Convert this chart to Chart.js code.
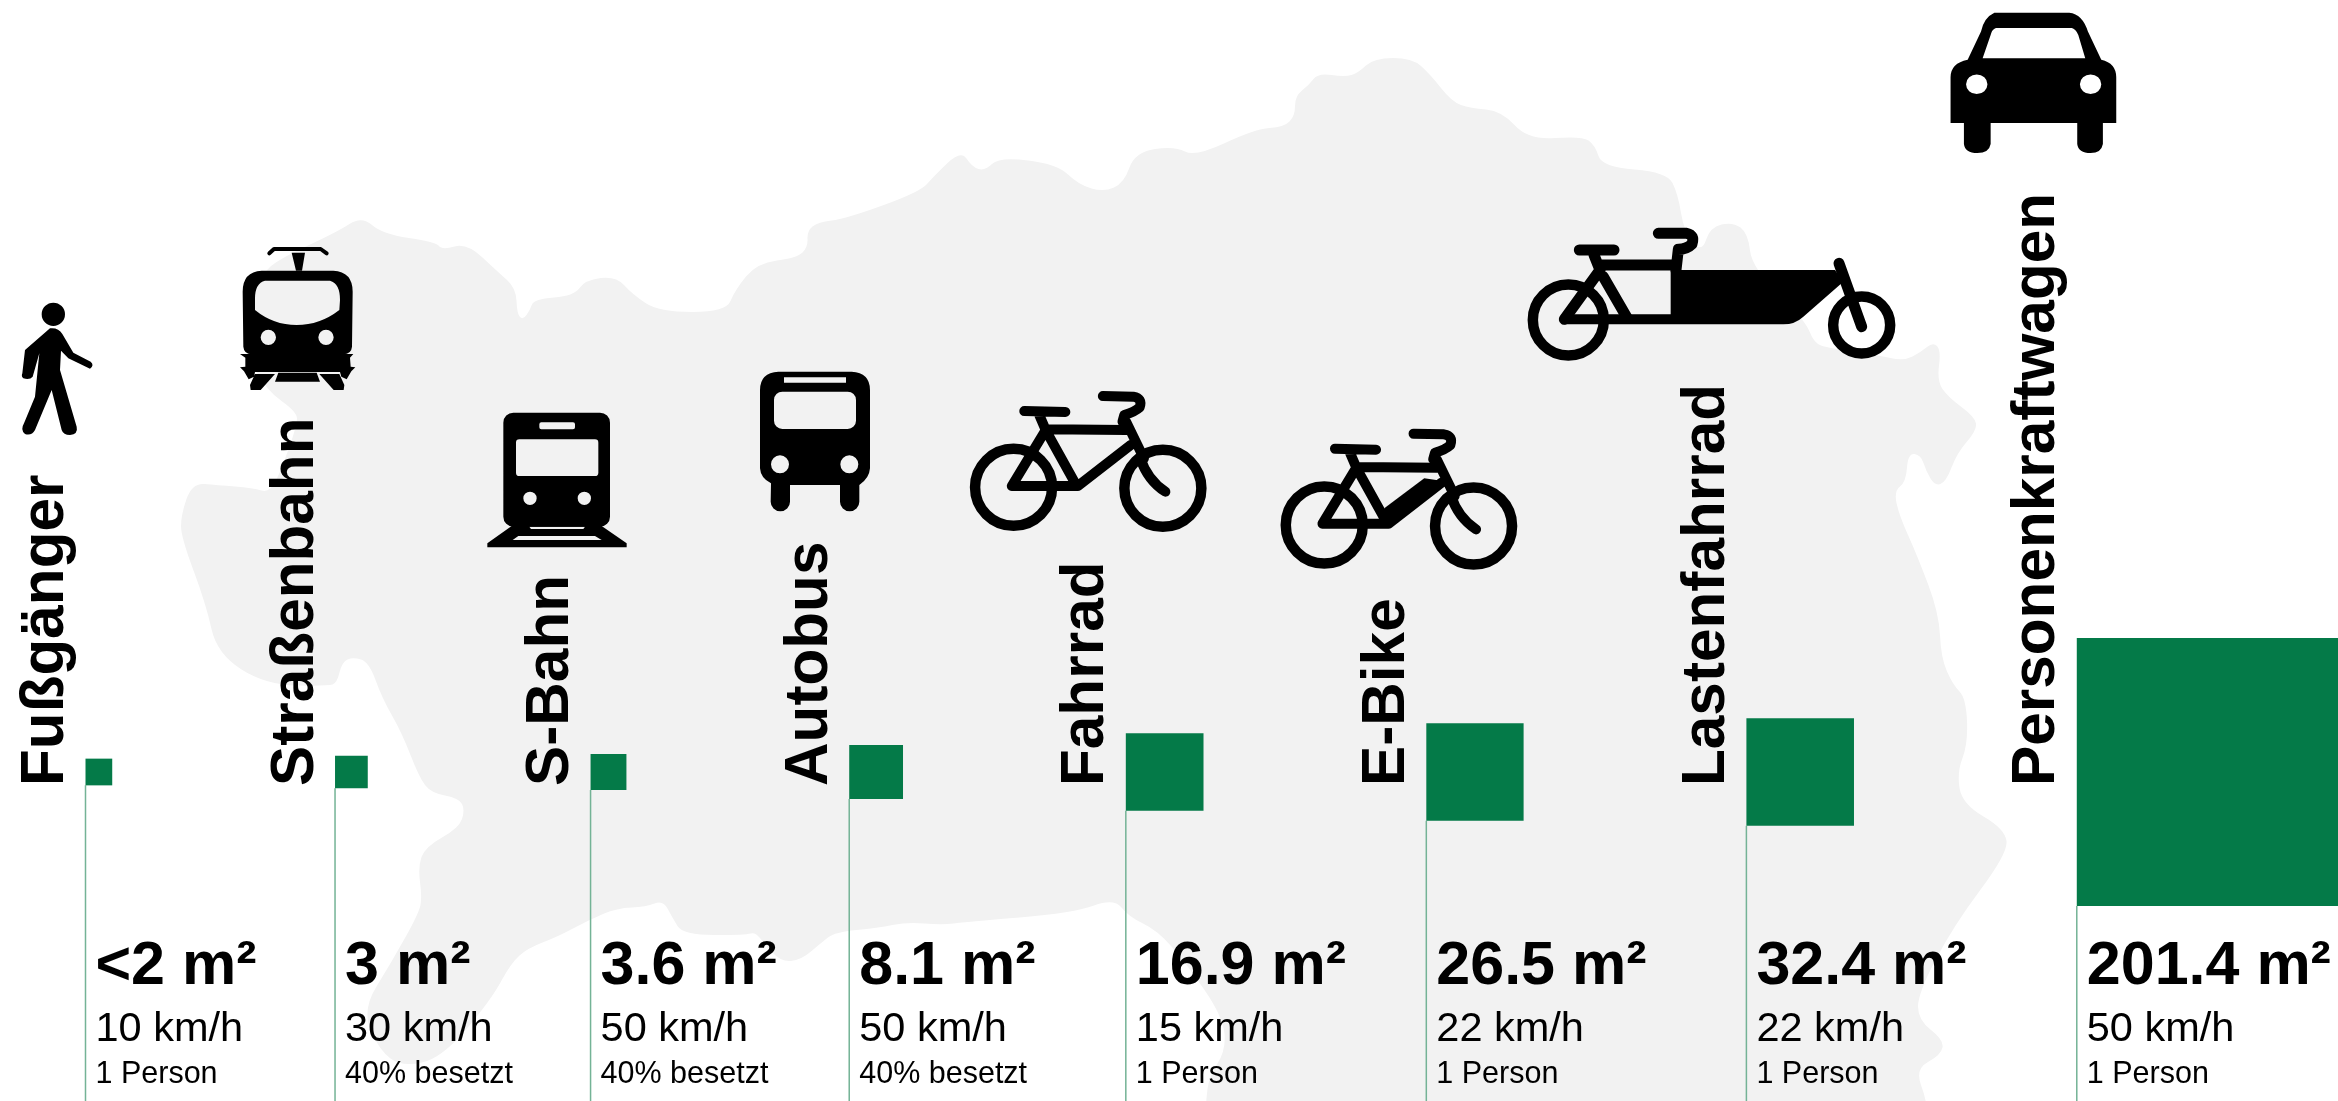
<!DOCTYPE html>
<html lang="de">
<head>
<meta charset="utf-8">
<title>Flächenverbrauch</title>
<script src="https://cdn.jsdelivr.net/npm/chart.js@4"></script>
<style>
    html, body { margin: 0; padding: 0; background: #fff; overflow: hidden; }
    canvas { display: block; }
</style>
</head>
<body>
<canvas id="chart" width="2338" height="1101"></canvas>
<script>
const categories = ['Fußgänger', 'Straßenbahn', 'S-Bahn', 'Autobus', 'Fahrrad', 'E-Bike', 'Lastenfahrrad', 'Personenkraftwagen'];
const areaValues = [2, 3, 3.6, 8.1, 16.9, 26.5, 32.4, 201.4];
const areaLabels = ['<2 m²', '3 m²', '3.6 m²', '8.1 m²', '16.9 m²', '26.5 m²', '32.4 m²', '201.4 m²'];
const speedLabels = ['10 km/h', '30 km/h', '50 km/h', '50 km/h', '15 km/h', '22 km/h', '22 km/h', '50 km/h'];
const occupancyLabels = ['1 Person', '40% besetzt', '40% besetzt', '40% besetzt', '1 Person', '1 Person', '1 Person', '1 Person'];

// Layout: one metre of square side is 18.9 px, both axes share that scale
const PX_PER_M = 18.9;
const WIDTH = 2338;
const HEIGHT = 1101;
const AXIS_Y_PX = 772;
const FIRST_LEFT = 85.5 / PX_PER_M;
const COLUMN_GAP = 222.8 / PX_PER_M;
const GREEN = '#047a48';
const POLE = '#74b396';
const MAP_GREY = '#f2f2f2';
const FONT = '"Liberation Sans", Arial, sans-serif';

// Each square is as wide as its area's root, the next column starts a fixed gap later
const sides = areaValues.map(v => Math.sqrt(v));
const lefts = [];
sides.forEach((side, i) => {
    lefts.push(i === 0 ? FIRST_LEFT : lefts[i - 1] + sides[i - 1] + COLUMN_GAP);
});

const yMax = AXIS_Y_PX / PX_PER_M;
const yMin = -(HEIGHT - AXIS_Y_PX) / PX_PER_M;

// Background silhouette, traced in canvas pixels
const mapOutline = [
    [192,483],[217,485],[253,488],[270,493],[282,468],[297,425],[297,412],[266,390],[245,350],[245,300],[262,275],[277,260],
    [337,232],[362,216],[382,234],[436,242],[442,250],[467,243],[498,272],[516,288],[517,314],[523,320],[530,310],[534,299],
    [574,296],[585,280],[616,276],[632,294],[659,312],[726,312],[735,290],[757,263],[797,258],[808,247],[807,231],[818,222],
    [845,219],[920,192],[934,176],[961,150],[972,167],[985,171],[999,157],[1057,164],[1079,185],[1104,192],[1124,183],[1135,152],
    [1175,146],[1195,157],[1255,129],[1284,127],[1295,116],[1295,96],[1309,85],[1318,73],[1345,77],[1358,73],[1374,58],[1412,58],
    [1430,74],[1452,102],[1470,108],[1502,111],[1528,140],[1582,136],[1595,145],[1602,167],[1667,172],[1678,194],[1684,232],[1702,253],
    [1710,227],[1733,222],[1748,233],[1752,268],[1805,320],[1814,343],[1828,348],[1877,355],[1904,361],[1921,352],[1933,342],[1941,350],
    [1937,381],[1948,397],[1975,417],[1977,430],[1957,453],[1946,482],[1935,486],[1926,471],[1921,455],[1908,453],[1906,482],[1894,491],
    [1899,515],[1917,555],[1939,613],[1941,658],[1953,685],[1966,698],[1968,744],[1957,772],[1962,804],[2005,829],[2008,853],[1954,925],
    [1918,993],[1918,1020],[1944,1040],[1941,1055],[1915,1069],[1927,1101],[1930,1140],[1204,1140],[1206,1101],[1209,1077],[1226,1050],[1223,1017],
    [1186,963],[1157,930],[1129,917],[1114,898],[1074,913],[965,922],[942,925],[907,922],[878,928],[835,932],[821,943],[801,960],
    [781,962],[764,943],[755,932],[746,935],[683,935],[672,917],[663,900],[646,907],[617,908],[589,920],[557,937],[528,948],
    [511,963],[491,1000],[442,1058],[402,1067],[379,1050],[362,1010],[391,963],[419,913],[422,897],[418,867],[425,847],[459,828],
    [465,810],[459,798],[431,793],[419,777],[402,733],[382,698],[369,662],[353,657],[342,662],[337,683],[328,686],[266,685],
    [217,654],[206,604],[181,537],[181,515]
];

function drawMap(ctx) {
    const n = mapOutline.length;
    const mid = (a, b) => [(a[0] + b[0]) / 2, (a[1] + b[1]) / 2];
    const start = mid(mapOutline[n - 1], mapOutline[0]);
    ctx.beginPath();
    ctx.moveTo(start[0], start[1]);
    mapOutline.forEach((p, i) => {
        const m = mid(p, mapOutline[(i + 1) % n]);
        ctx.quadraticCurveTo(p[0], p[1], m[0], m[1]);
    });
    ctx.closePath();
    ctx.fillStyle = MAP_GREY;
    ctx.fill();
}

// Icon helpers: shapes are written in a local grid, lineWidth stays in canvas pixels
function inGrid(ctx, ox, oy, sx, sy, buildPath) {
    ctx.save();
    ctx.translate(ox, oy);
    ctx.scale(1 / sx, 1 / sy);
    ctx.beginPath();
    buildPath(ctx);
    ctx.restore();
}

function roundBox(ctx, x0, y0, x1, y1, r) {
    ctx.moveTo(x0 + r, y0);
    ctx.arcTo(x1, y0, x1, y1, r);
    ctx.arcTo(x1, y1, x0, y1, r);
    ctx.arcTo(x0, y1, x0, y0, r);
    ctx.arcTo(x0, y0, x1, y0, r);
    ctx.closePath();
}

function poly(ctx, pts) {
    pts.forEach((p, i) => i === 0 ? ctx.moveTo(p[0], p[1]) : ctx.lineTo(p[0], p[1]));
    ctx.closePath();
}

function dot(ctx, x, y, r) {
    ctx.moveTo(x + r, y);
    ctx.arc(x, y, r, 0, Math.PI * 2);
    ctx.closePath();
}

function drawPedestrian(ctx) {
    inGrid(ctx, 0, 230, 3, 3, c => {
        dot(c, 160, 253, 35);
        c.moveTo(150, 295);
        c.quadraticCurveTo(175, 292, 187, 312);
        c.lineTo(220, 368);
        c.lineTo(272, 395);
        c.quadraticCurveTo(284, 406, 270, 416);
        c.lineTo(205, 385);
        c.lineTo(183, 362);
        c.lineTo(180, 420);
        c.lineTo(230, 590);
        c.quadraticCurveTo(235, 612, 210, 615);
        c.quadraticCurveTo(190, 615, 185, 600);
        c.lineTo(155, 480);
        c.lineTo(105, 600);
        c.quadraticCurveTo(95, 618, 75, 612);
        c.quadraticCurveTo(60, 600, 72, 580);
        c.lineTo(105, 500);
        c.lineTo(118, 370);
        c.lineTo(98, 440);
        c.quadraticCurveTo(90, 450, 70, 445);
        c.quadraticCurveTo(63, 440, 67, 430);
        c.lineTo(75, 360);
        c.closePath();
    });
    ctx.fill();
}

function drawTram(ctx) {
    inGrid(ctx, 0, 230, 3, 3, c => {
        // body
        c.moveTo(785, 122);
        c.lineTo(1000, 122);
        c.quadraticCurveTo(1058, 125, 1058, 185);
        c.lineTo(1056, 350);
        c.quadraticCurveTo(1054, 372, 1030, 373);
        c.lineTo(755, 373);
        c.quadraticCurveTo(732, 372, 730, 350);
        c.lineTo(728, 185);
        c.quadraticCurveTo(728, 125, 785, 122);
        c.closePath();
        // window
        c.moveTo(795, 152);
        c.lineTo(990, 152);
        c.quadraticCurveTo(1020, 160, 1020, 210);
        c.lineTo(1018, 240);
        c.quadraticCurveTo(960, 285, 890, 285);
        c.quadraticCurveTo(820, 285, 765, 240);
        c.lineTo(765, 205);
        c.quadraticCurveTo(765, 160, 795, 152);
        c.closePath();
        dot(c, 805, 322, 23);
        dot(c, 978, 322, 23);
    });
    ctx.fill('evenodd');
    inGrid(ctx, 0, 230, 3, 3, c => {
        poly(c, [[720,372],[1060,372],[1050,383],[1052,410],[1066,412],[1054,424],[1040,448],[1024,440],[1020,426],[765,426],[762,440],[746,448],[732,424],[720,412],[736,410],[736,383]]);
        poly(c, [[765,432],[825,432],[782,480],[752,480],[750,465]]);
        poly(c, [[1018,432],[958,432],[1001,480],[1031,480],[1033,465]]);
        poly(c, [[835,428],[950,428],[960,455],[825,455]]);
        poly(c, [[875,68],[915,68],[906,122],[888,122]]);
    });
    ctx.fill();
    inGrid(ctx, 0, 230, 3, 3, c => {
        c.moveTo(808, 70);
        c.lineTo(822, 57);
        c.lineTo(962, 57);
        c.lineTo(980, 70);
    });
    ctx.lineWidth = 4;
    ctx.stroke();
}

function drawTrain(ctx) {
    inGrid(ctx, 480, 370, 3, 3, c => {
        roundBox(c, 70, 128, 390, 470, 30);
        roundBox(c, 178, 157, 285, 178, 6);
        roundBox(c, 108, 208, 355, 318, 10);
        dot(c, 150, 385, 20);
        dot(c, 313, 385, 20);
    });
    ctx.fill('evenodd');
    inGrid(ctx, 480, 370, 3, 3, c => {
        poly(c, [[95,468],[365,468],[440,520],[440,532],[22,532],[22,520]]);
        poly(c, [[148,470],[315,470],[310,477],[153,477]]);
        poly(c, [[115,498],[345,498],[365,510],[98,510]]);
    });
    ctx.fill('evenodd');
}

function drawBus(ctx) {
    inGrid(ctx, 480, 370, 3, 3, c => {
        c.moveTo(895, 5);
        c.lineTo(1115, 5);
        c.quadraticCurveTo(1170, 8, 1170, 60);
        c.lineTo(1170, 295);
        c.quadraticCurveTo(1168, 325, 1138, 345);
        c.lineTo(1138, 395);
        c.arc(1109, 395, 29, 0, Math.PI);
        c.lineTo(1080, 345);
        c.lineTo(930, 345);
        c.lineTo(930, 395);
        c.arc(901, 395, 29, 0, Math.PI);
        c.lineTo(873, 340);
        c.quadraticCurveTo(842, 325, 840, 295);
        c.lineTo(840, 60);
        c.quadraticCurveTo(840, 8, 895, 5);
        c.closePath();
        poly(c, [[912,22],[1098,22],[1098,38],[912,38]]);
        roundBox(c, 882, 65, 1128, 177, 25);
        dot(c, 900, 283, 27);
        dot(c, 1108, 283, 27);
    });
    ctx.fill('evenodd');
}

function strokeLines(ctx, ox, oy, sx, sy, lines, width) {
    inGrid(ctx, ox, oy, sx, sy, c => {
        lines.forEach(line => {
            line.forEach((p, i) => i === 0 ? c.moveTo(p[0], p[1]) : c.lineTo(p[0], p[1]));
        });
    });
    ctx.lineWidth = width;
    ctx.stroke();
}

function drawWheel(ctx, ox, oy, sx, sy, x, y, r, width) {
    ctx.beginPath();
    ctx.arc(ox + x / sx, oy + y / sy, r, 0, Math.PI * 2);
    ctx.lineWidth = width;
    ctx.stroke();
}

function drawBike(ctx, dx, dy, withBattery) {
    const ox = 960 + dx;
    const oy = 380 + dy;
    drawWheel(ctx, ox, oy, 2.8, 3, 150, 322, 38.5, 10.5);
    drawWheel(ctx, ox, oy, 2.8, 3, 568, 325, 38.5, 10.5);
    strokeLines(ctx, ox, oy, 2.8, 3, [
        [[180, 93], [295, 96]],
        [[222, 105], [240, 150], [145, 318], [330, 318], [478, 195]],
        [[240, 148], [465, 150]],
        [[250, 170], [320, 305]],
        [[465, 125], [515, 235]]
    ], 10);
    // handlebar and fork
    inGrid(ctx, ox, oy, 2.8, 3, c => {
        c.moveTo(400, 48);
        c.lineTo(485, 50);
        c.quadraticCurveTo(512, 55, 503, 82);
        c.quadraticCurveTo(490, 95, 460, 105);
        c.lineTo(455, 125);
        c.moveTo(505, 235);
        c.quadraticCurveTo(525, 300, 575, 335);
    });
    ctx.lineWidth = 10;
    ctx.stroke();
    if (withBattery) {
        inGrid(ctx, ox, oy, 2.8, 3, c => {
            poly(c, [[318, 272], [430, 182], [468, 188], [478, 200], [330, 322]]);
        });
        ctx.fill();
    }
}

function drawCargoBike(ctx) {
    const ox = 1520;
    const oy = 220;
    drawWheel(ctx, ox, oy, 3, 3, 145, 300, 35.5, 10.5);
    drawWheel(ctx, ox, oy, 3, 3, 1025, 315, 28.5, 10.5);
    strokeLines(ctx, ox, oy, 3, 3, [
        [[178, 90], [282, 90]],
        [[222, 105], [240, 150], [133, 298]],
        [[240, 135], [460, 135]],
        [[250, 170], [322, 295]],
        [[957, 130], [1025, 320]]
    ], 11);
    inGrid(ctx, ox, oy, 3, 3, c => {
        c.moveTo(415, 40);
        c.lineTo(500, 40);
        c.quadraticCurveTo(525, 45, 516, 72);
        c.quadraticCurveTo(500, 88, 475, 88);
        c.lineTo(468, 150);
    });
    ctx.stroke();
    inGrid(ctx, ox, oy, 3, 3, c => {
        c.moveTo(452, 150);
        c.lineTo(945, 150);
        c.lineTo(970, 185);
        c.lineTo(850, 290);
        c.quadraticCurveTo(825, 313, 790, 313);
        c.lineTo(125, 313);
        c.lineTo(125, 283);
        c.lineTo(452, 283);
        c.closePath();
    });
    ctx.fill();
}

function drawCar(ctx) {
    inGrid(ctx, 1500, 0, 1.871, 1.424, c => {
        c.moveTo(925, 18);
        c.lineTo(1065, 18);
        c.quadraticCurveTo(1090, 20, 1100, 45);
        c.lineTo(1125, 85);
        c.quadraticCurveTo(1153, 90, 1153, 110);
        c.lineTo(1153, 175);
        c.lineTo(1128, 175);
        c.lineTo(1128, 205);
        c.quadraticCurveTo(1125, 218, 1105, 218);
        c.quadraticCurveTo(1082, 218, 1080, 205);
        c.lineTo(1080, 175);
        c.lineTo(918, 175);
        c.lineTo(918, 205);
        c.quadraticCurveTo(915, 218, 893, 218);
        c.quadraticCurveTo(870, 218, 868, 205);
        c.lineTo(868, 175);
        c.lineTo(843, 175);
        c.lineTo(843, 110);
        c.quadraticCurveTo(843, 90, 875, 85);
        c.lineTo(900, 45);
        c.quadraticCurveTo(905, 25, 925, 18);
        c.closePath();
        // windscreen
        c.moveTo(928, 40);
        c.lineTo(1070, 40);
        c.quadraticCurveTo(1078, 42, 1082, 50);
        c.lineTo(1095, 83);
        c.lineTo(903, 83);
        c.lineTo(918, 50);
        c.quadraticCurveTo(920, 42, 928, 40);
        c.closePath();
        c.moveTo(912, 120);
        c.ellipse(892, 120, 20, 14, 0, 0, Math.PI * 2);
        c.closePath();
        c.moveTo(1125, 120);
        c.ellipse(1105, 120, 20, 14, 0, 0, Math.PI * 2);
        c.closePath();
    });
    ctx.fill('evenodd');
}

// Map goes under the marks, texts and icons on top of them
const backdropPlugin = {
    id: 'backdrop',
    beforeDatasetsDraw(chart) {
        drawMap(chart.ctx);
    }
};

const labelsPlugin = {
    id: 'columnLabels',
    afterDatasetsDraw(chart) {
        const ctx = chart.ctx;
        const x = chart.scales.x;
        const y = chart.scales.y;
        ctx.save();
        ctx.fillStyle = '#000';
        ctx.textAlign = 'left';
        ctx.textBaseline = 'alphabetic';
        categories.forEach((name, i) => {
            const left = x.getPixelForValue(lefts[i]);
            // rotated name sits left of the pole
            ctx.save();
            ctx.translate(left - 22.5, y.getPixelForValue(0) + 14);
            ctx.rotate(-Math.PI / 2);
            ctx.font = 'bold 60.3px ' + FONT;
            ctx.fillText(name, 0, 0);
            ctx.restore();

            ctx.font = 'bold 61px ' + FONT;
            ctx.fillText(areaLabels[i], left + 10, 984);
            ctx.font = '41.5px ' + FONT;
            ctx.fillText(speedLabels[i], left + 10, 1040.5);
            ctx.font = '30.5px ' + FONT;
            ctx.fillText(occupancyLabels[i], left + 10, 1082.5);
        });
        ctx.restore();
    }
};

const iconsPlugin = {
    id: 'icons',
    afterDatasetsDraw(chart) {
        const ctx = chart.ctx;
        ctx.save();
        ctx.fillStyle = '#000';
        ctx.strokeStyle = '#000';
        ctx.lineCap = 'round';
        ctx.lineJoin = 'round';
        drawPedestrian(ctx);
        drawTram(ctx);
        drawTrain(ctx);
        drawBus(ctx);
        drawBike(ctx, 0, 0, false);
        drawBike(ctx, 310.7, 37.7, true);
        drawCargoBike(ctx);
        drawCar(ctx);
        ctx.restore();
    }
};

const poleDatasets = lefts.map((left, i) => ({
    type: 'scatter',
    showLine: true,
    data: [{ x: left, y: -sides[i] / 2 }, { x: left, y: yMin }],
    borderColor: POLE,
    borderWidth: 1.5,
    pointRadius: 0,
    order: 2
}));

const squareDataset = {
    type: 'scatter',
    label: 'Fläche',
    data: lefts.map((left, i) => ({ x: left + sides[i] / 2, y: 0 })),
    pointStyle: 'rect',
    // a rect point of radius r is r * sqrt(2) wide
    pointRadius: context => {
        const x = context.chart.scales.x;
        return (x.getPixelForValue(sides[context.dataIndex]) - x.getPixelForValue(0)) / Math.SQRT2;
    },
    backgroundColor: GREEN,
    borderWidth: 0,
    order: 1
};

new Chart(document.getElementById('chart'), {
    type: 'scatter',
    data: { datasets: [squareDataset, ...poleDatasets] },
    options: {
        responsive: false,
        animation: false,
        layout: { padding: 0 },
        plugins: {
            legend: { display: false },
            tooltip: { enabled: false }
        },
        scales: {
            x: { type: 'linear', display: false, min: 0, max: WIDTH / PX_PER_M },
            y: { type: 'linear', display: false, min: yMin, max: yMax }
        }
    },
    plugins: [backdropPlugin, labelsPlugin, iconsPlugin]
});
</script>
</body>
</html>
